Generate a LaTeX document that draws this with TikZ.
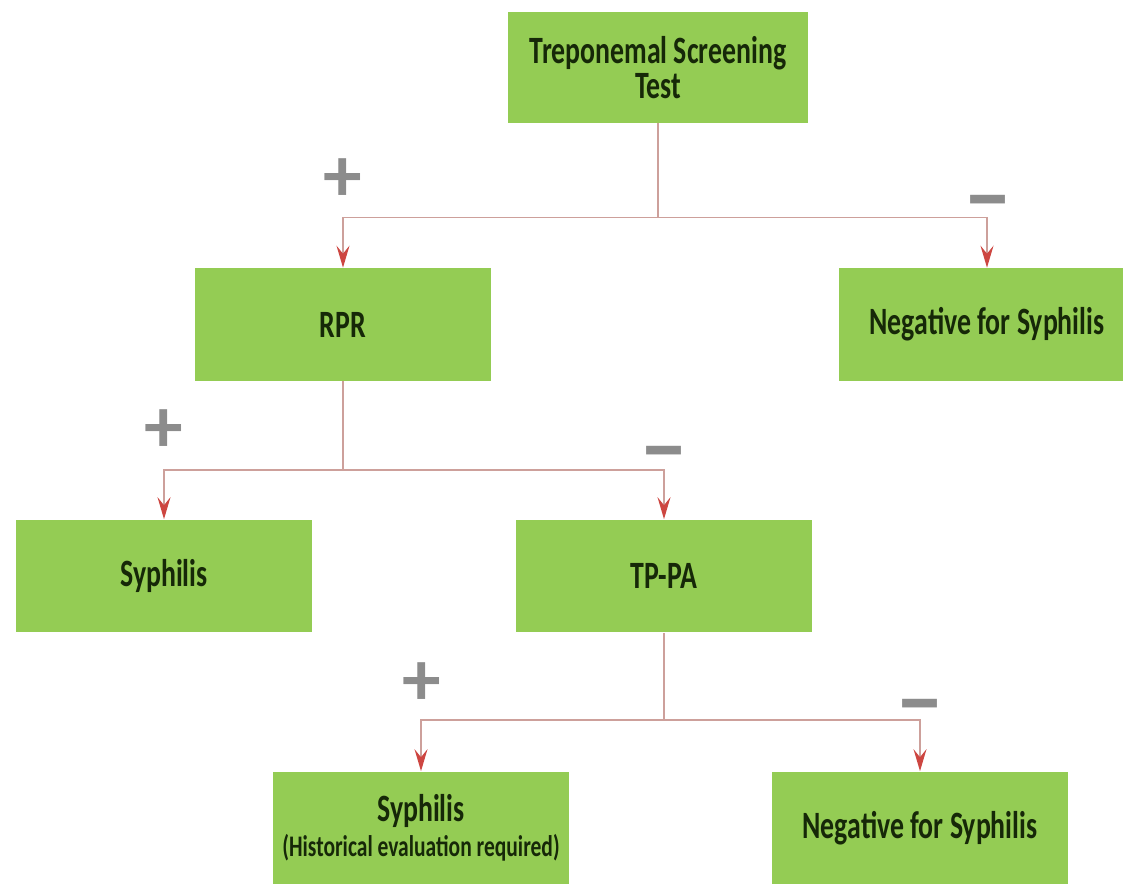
\documentclass[tikz,border=0pt]{standalone}
\usepackage{fontspec}
\setmainfont{Carlito}
\newfontfamily\boxfont[FakeStretch=0.72]{Carlito}
\usetikzlibrary{arrows.meta,positioning}
\definecolor{boxgreen}{RGB}{148,204,84}
\definecolor{boxtext}{RGB}{22,40,8}
\definecolor{linkcol}{RGB}{205,160,155}
\definecolor{tipred}{RGB}{205,70,65}
\definecolor{signgray}{RGB}{140,140,140}

\begin{document}
\begin{tikzpicture}[x=0.02cm,y=-0.02cm,
  stage/.style={fill=boxgreen,text=boxtext,minimum width=5.94cm,minimum height=2.26cm,
    align=center,inner sep=0pt,font=\boxfont\bfseries\fontsize{22}{20}\selectfont},
  link/.style={draw=linkcol,line width=0.8pt},
  arr/.style={link,-{Stealth[length=4.4mm,width=2.6mm,inset=1.6mm,color=tipred]}},
  sign/.style={text=signgray,font=\bfseries\fontsize{44}{44}\selectfont,inner sep=0pt},
  minussign/.style={sign,font=\bfseries\fontsize{56}{56}\selectfont}]
\useasboundingbox (0,0) rectangle (1123,883);

% boxes
\node[stage,minimum width=6cm,minimum height=2.22cm] (screen) at (658,67.5) {Treponemal Screening\\Test};
\node[stage] (rpr) at (343,324.5) {RPR};
\node[stage] (neg1) at (987,324.5) {Negative for Syphilis};
\node[stage] (syph) at (164,576) {Syphilis};
\node[stage] (tppa) at (664,576) {TP-PA};
\node[stage] (hist) at (421,828) {Syphilis\\{\fontsize{17}{17}\selectfont(Historical evaluation required)}};
\node[stage] (neg2) at (920,828) {Negative for Syphilis};

% signs
\node[sign] (plus1) at (343,180) {+};
\node[minussign] (minus1) at (988,211) {–};
\node[sign] (plus2) at (164,431) {+};
\node[minussign] (minus2) at (664,462) {–};
\node[sign] (plus3) at (422,684) {+};
\node[minussign] (minus3) at (920,715) {–};

% connectors
\draw[link] (screen.south) -- ++(0,94) coordinate (split1);
\draw[arr] (split1) -| (rpr.north);
\draw[arr] (split1) -| (neg1.north);
\draw[link] (rpr.south) -- ++(0,88.5) coordinate (split2);
\draw[arr] (split2) -| (syph.north);
\draw[arr] (split2) -| (tppa.north);
\draw[link] (tppa.south) -- ++(0,87) coordinate (split3);
\draw[arr] (split3) -| (hist.north);
\draw[arr] (split3) -| (neg2.north);
\end{tikzpicture}
\end{document}
